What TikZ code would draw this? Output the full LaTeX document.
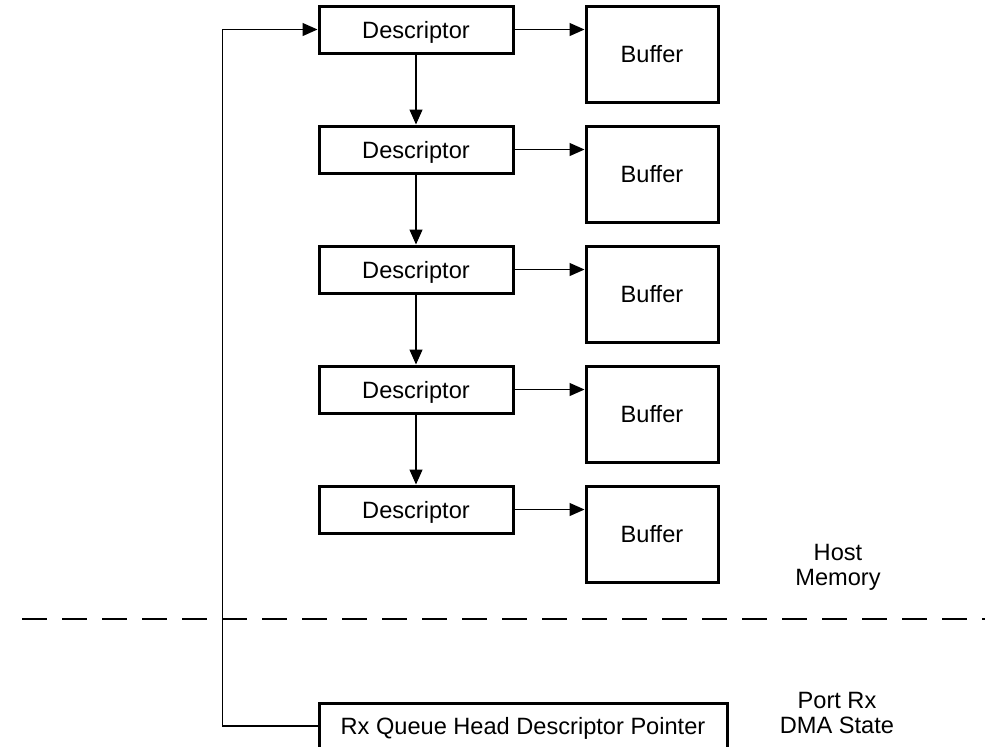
\documentclass[tikz,border=0pt]{standalone}
\usepackage{fontspec}
\setmainfont{Liberation Sans}
\usepackage{tikz}
\usetikzlibrary{positioning, arrows.meta}

\begin{document}
\begin{tikzpicture}[
        x=0.5pt, y=-0.5pt,
        font=\fontsize{11.8pt}{12.5pt}\selectfont,
        >={Triangle[length=7.5pt, width=6.5pt]},
        node distance=35pt,
        box/.style={rectangle, draw, line width=1.5pt, inner sep=0pt, text depth=0pt, align=center},
        descriptor/.style={box, minimum width=97pt, minimum height=23.5pt},
        buffer/.style={box, minimum width=66pt, minimum height=48pt},
        dmastate/.style={box, minimum width=204pt, minimum height=23pt},
        label/.style={align=center},
        arrow/.style={->, line width=0.6pt}
    ]
        \useasboundingbox (0,0) rectangle (985,746);

        % Descriptor chain
        \node[descriptor] (desc1) at (416,29.5) {Descriptor};
        \node[descriptor, below=of desc1] (desc2) {Descriptor};
        \node[descriptor, below=of desc2] (desc3) {Descriptor};
        \node[descriptor, below=of desc3] (desc4) {Descriptor};
        \node[descriptor, below=of desc4] (desc5) {Descriptor};

        % Buffers
        \node[buffer, below right=0pt and 35pt of desc1.north east] (buf1) {Buffer};
        \node[buffer, below right=0pt and 35pt of desc2.north east] (buf2) {Buffer};
        \node[buffer, below right=0pt and 35pt of desc3.north east] (buf3) {Buffer};
        \node[buffer, below right=0pt and 35pt of desc4.north east] (buf4) {Buffer};
        \node[buffer, below right=0pt and 35pt of desc5.north east] (buf5) {Buffer};

        % Port state
        \node[dmastate, below right=83.5pt and 0pt of desc5.south west] (rxhead) {Rx Queue Head Descriptor Pointer};

        % Labels
        \node[label] (hostmem) at (838,567) {Host\\Memory};
        \node[label] (portrx) at (837,713) {Port Rx\\DMA State};

        % Separator
        \draw[line width=0.6pt, dash pattern=on 12.5pt off 7.5pt] (22,619) -- (985,619);

        % Arrows
        \draw[arrow] (desc1) -- (desc2);
        \draw[arrow] (desc2) -- (desc3);
        \draw[arrow] (desc3) -- (desc4);
        \draw[arrow] (desc4) -- (desc5);

        \draw[arrow] (desc1.east) -- (buf1.west |- desc1.east);
        \draw[arrow] (desc2.east) -- (buf2.west |- desc2.east);
        \draw[arrow] (desc3.east) -- (buf3.west |- desc3.east);
        \draw[arrow] (desc4.east) -- (buf4.west |- desc4.east);
        \draw[arrow] (desc5.east) -- (buf5.west |- desc5.east);

        \coordinate[left=47.5pt of rxhead.west] (loop);
        \draw[arrow] (rxhead.west) -- (loop) |- (desc1.west);
    \end{tikzpicture}
\end{document}
